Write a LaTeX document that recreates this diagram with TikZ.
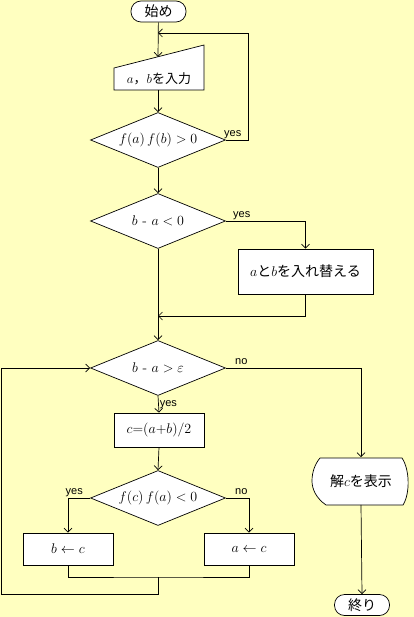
\documentclass[tikz,border=0pt]{standalone}
\usepackage{fix-cm}
\usepackage{fontspec}
\newfontfamily\jp{Noto Sans CJK JP}
\newfontfamily\labfont{Liberation Sans}
\usetikzlibrary{shapes.geometric,arrows.meta}
\definecolor{bgyellow}{RGB}{255,255,192}

\tikzset{
    flow/.style={draw, fill=white, line width=0.7pt},
    term/.style={flow, rounded corners=10pt, minimum width=55pt, minimum height=21pt, inner sep=0pt, font=\jp\fontsize{14}{16}\selectfont},
    proc/.style={flow, rectangle, inner sep=0pt, font=\fontsize{14}{16}\selectfont},
    decide/.style={flow, diamond, aspect=2.45, inner sep=0pt, minimum width=135pt, minimum height=55pt, font=\fontsize{14}{16}\selectfont},
    lab/.style={font=\labfont\fontsize{11}{13}\selectfont, inner sep=1pt},
}

\begin{document}
\begin{tikzpicture}[x=1pt, y=-1pt, line width=0.7pt, >={Straight Barb[length=4pt,width=8pt]}]
    \fill[bgyellow] (0,0) rectangle (414,617);
    \useasboundingbox (0,0) rectangle (414,617);

    % main column
    \node[term] (start) at (158.5,11.5) {始め};

    \filldraw[fill=white] (114,68) -- (204,45) -- (204,90) -- (114,90) -- cycle;
    \node[font=\fontsize{13}{15}\selectfont] (inp) at (159,79) {$a$\jp，$b$を入力};
    \coordinate (intop) at (158,56.8);
    \coordinate (inbot) at (158,90);

    \node[decide] (d1) at (158,140) {$f(a)\,f(b) > 0$};
    \node[decide] (d2) at (158,221) {$b$ - $a < 0$};
    \node[proc, minimum width=135pt, minimum height=45pt] (swap) at (305.5,271.5) {$a$\jp と$b$を入れ替える};
    \node[decide] (d3) at (158,368) {$b$ - $a > \varepsilon$};
    \node[proc, minimum width=90pt, minimum height=34pt] (mid) at (159,430) {$c{=}(a{+}b)/2$};
    \node[decide] (d4) at (158,498) {$f(c)\,f(a) < 0$};
    \node[proc, minimum width=90pt, minimum height=32pt] (setb) at (68,549) {$b \leftarrow c$};
    \node[proc, minimum width=90pt, minimum height=32pt] (seta) at (249,549) {$a \leftarrow c$};

    % display
    \filldraw[fill=white] (320,458) -- (402,458) .. controls (410,470) and (410,494) .. (403,505)
        -- (326,505) .. controls (316,498) and (312,489) .. (312,481)
        .. controls (312,472) and (315,464) .. (320,458) -- cycle;
    \node[font=\fontsize{14}{16}\selectfont, minimum width=90pt, minimum height=47pt] (disp) at (361,481) {\jp 解$c$を表示};
    \node[term] (stop) at (362,605) {終り};

    \coordinate (loop1) at (158,33);
    \coordinate (merge1) at (158,316);
    \coordinate (merge2) at (158,577);

    % arrows
    \draw[->] (start) -- (intop);
    \draw[->] (inbot) -- (d1.north);
    \draw[->] (d1.east) node[lab, anchor=south west, xshift=-3pt] {yes} -- (248,140) |- (loop1);
    \draw[->] (d1.south) -- (d2.north);
    \draw[->] (d2.east) node[lab, anchor=south west, xshift=6pt] {yes} -| (swap.north);
    \draw[->] (swap.south) |- (merge1);
    \draw[->] (d2.south) -- (d3.north);
    \draw[->] (d3.south) -- node[lab, right, pos=0.5] {yes} (mid.north);
    \draw[->] (mid.south) -- (d4.north);
    \draw[->] (d4.west) node[lab, anchor=south east, xshift=-6pt] {yes} -| (setb.north);
    \draw[->] (d4.east) node[lab, anchor=south west, xshift=8pt, yshift=2pt] {no} -| (seta.north);
    \draw (setb.south) |- (merge2) -| (seta.south);
    \draw[->] (merge2) -- (158,594) -| (1,368) -- (d3.west);
    \draw[->] (d3.east) node[lab, anchor=south west, xshift=8pt, yshift=2pt] {no} -| (disp.north);
    \draw[->] (disp.south) -- (stop.north);

\end{tikzpicture}
\end{document}
